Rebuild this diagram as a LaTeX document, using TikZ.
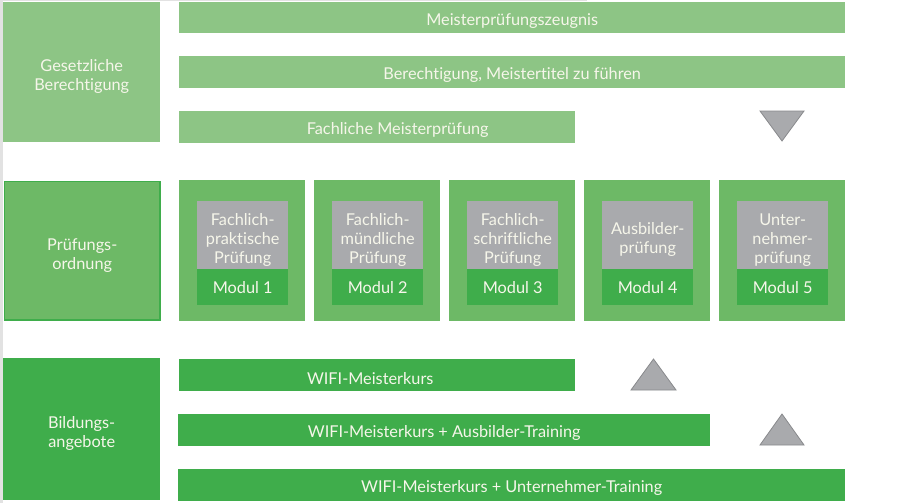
\documentclass[tikz,border=0pt]{standalone}
\usepackage{fontspec}
\setmainfont{Lato}[Ligatures={NoCommon,NoRare,NoDiscretionary}]
\definecolor{lgreen}{HTML}{8DC585}
\definecolor{mgreen}{HTML}{6DB966}
\definecolor{dgreen}{HTML}{3FAD4B}
\definecolor{boxgray}{HTML}{A9AAAD}
\definecolor{trigray}{HTML}{88898C}
\definecolor{txt}{HTML}{F6F6EA}
\definecolor{frame}{HTML}{E2E2E2}
\begin{document}
\begin{tikzpicture}[x=1pt,y=-1pt,
  base/.style={rectangle,inner sep=0pt,anchor=north west},
  lab/.style={inner sep=0pt,text=txt,align=center,font=\fontsize{16.3}{19}\selectfont},
  toprow/.style={base,fill=lgreen},
  midrow/.style={base,fill=mgreen},
  botrow/.style={base,fill=dgreen},
  grayin/.style={base,fill=boxgray,minimum width=91pt,minimum height=68pt},
  modlab/.style={base,fill=dgreen,minimum width=91pt,minimum height=36pt},
  tri/.style={fill=boxgray,draw=trigray,line width=0.8pt,line join=miter}]
\useasboundingbox (0,0) rectangle (920,503);
\fill[white] (0,0) rectangle (920,503);
\fill[frame] (0,0) rectangle (3,503);
\fill[frame] (0,0) rectangle (587,1.5);
% left column
\node[toprow,minimum width=157pt,minimum height=140pt] (gb) at (3,2) {};
\node[lab] (gbt) at ([yshift=-4.5pt]gb.center) {Gesetzliche\\Berechtigung};
\node[midrow,draw=dgreen,line width=1.5pt,minimum width=155.5pt,minimum height=138.5pt] (po) at (3.75,180.75) {};
\node[lab] (pot) at ([yshift=-4.5pt]po.center) {Prüfungs-\\ordnung};
\node[botrow,minimum width=157pt,minimum height=142pt] (ba) at (3,358) {};
\node[lab] (bat) at ([yshift=-4.5pt]ba.center) {Bildungs-\\angebote};
% top bars
\node[toprow,minimum width=666pt,minimum height=31pt] (mz) at (179,2) {};
\node[lab] (mzt) at ([yshift=-3pt]mz.center) {Meisterprüfungszeugnis};
\node[toprow,minimum width=666pt,minimum height=32pt] (bm) at (179,56) {};
\node[lab] (bmt) at ([yshift=-3pt]bm.center) {Berechtigung, Meistertitel zu führen};
\node[toprow,minimum width=396pt,minimum height=32pt] (fm) at (179,111) {};
\node[lab] (fmt) at ([xshift=20.5pt,yshift=-3pt]fm.center) {Fachliche Meisterprüfung};
\draw[tri] (760,111) -- (804,111) -- (782,141) -- cycle;
% modules
\foreach \i/\x/\t in {1/179/{Fachlich-\\praktische\\Prüfung},
                      2/314/{Fachlich-\\mündliche\\Prüfung},
                      3/449/{Fachlich-\\schriftliche\\Prüfung},
                      4/584/{Ausbilder-\\prüfung},
                      5/719/{Unter-\\nehmer-\\prüfung}}{
  \node[midrow,minimum width=126pt,minimum height=141pt] (m\i) at (\x,180) {};
  \node[grayin] (g\i) at (\x+18,201) {};
  \node[lab] (gt\i) at ([yshift=-4.5pt]g\i.center) {\t};
  \node[modlab] (l\i) at (\x+18,269) {};
  \node[lab] (lt\i) at (l\i.center) {Modul \i};
}
% bottom bars
\node[botrow,minimum width=396pt,minimum height=32pt] (wm) at (179,359) {};
\node[lab] (wmt) at ([xshift=-7pt,yshift=-3pt]wm.center) {WIFI-Meisterkurs};
\node[botrow,minimum width=532pt,minimum height=32pt] (wa) at (178,414) {};
\node[lab] (wat) at ([yshift=-3pt]wa.center) {WIFI-Meisterkurs + Ausbilder-Training};
\node[botrow,minimum width=667pt,minimum height=32pt] (wu) at (178,469) {};
\node[lab] (wut) at ([yshift=-3pt]wu.center) {WIFI-Meisterkurs + Unternehmer-Training};
\draw[tri] (631,390) -- (676,390) -- (653.5,359) -- cycle;
\draw[tri] (760,445) -- (804,445) -- (782,414) -- cycle;
\end{tikzpicture}
\end{document}
